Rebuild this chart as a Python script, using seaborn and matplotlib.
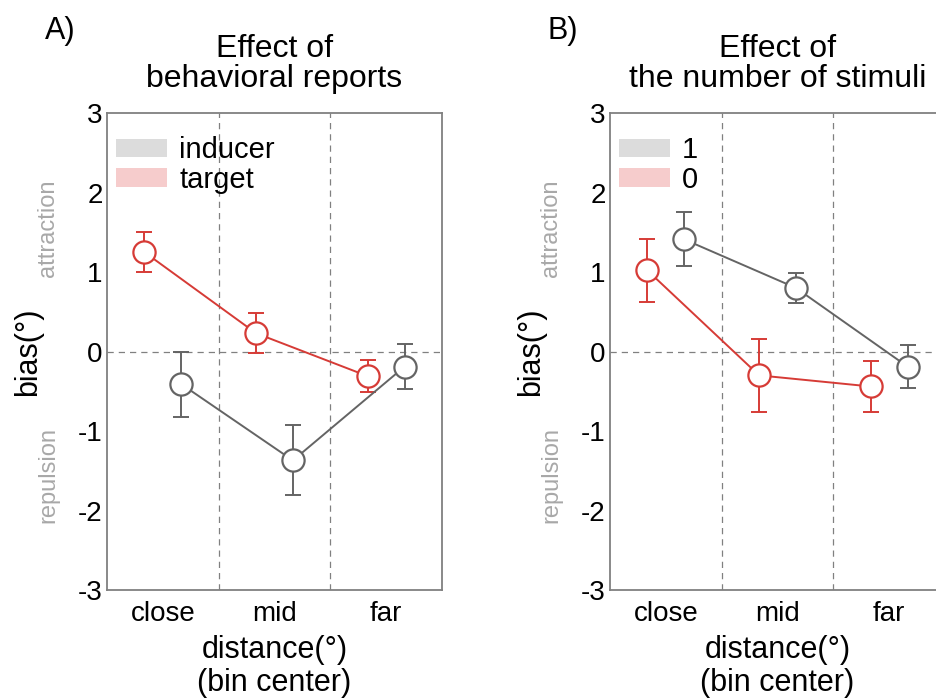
import pandas as pd
import matplotlib.pyplot as plt
from matplotlib.patches import Patch
import seaborn as sns

# -----------------------------------------------------------------------------
# Data
# -----------------------------------------------------------------------------
bins = ["close", "mid", "far"]
yticks = [-3, -2, -1, 0, 1, 2, 3]

# A) effect of behavioral reports
a_inducer = [-0.41, -1.37, -0.19]
a_inducer_err = [0.41, 0.44, 0.28]
a_target = [1.25, 0.23, -0.31]
a_target_err = [0.25, 0.25, 0.20]

# B) effect of the number of stimuli
b_one = [1.41, 0.80, -0.19]
b_one_err = [0.34, 0.19, 0.27]
b_zero = [1.02, -0.30, -0.44]
b_zero_err = [0.40, 0.46, 0.32]

# -----------------------------------------------------------------------------
# Style
# -----------------------------------------------------------------------------
sns.set_theme(style="white")
plt.rcParams['font.family'] = ['Liberation Sans', 'DejaVu Sans']
plt.rcParams['axes.unicode_minus'] = False
plt.rcParams['text.color'] = 'black'
plt.rcParams['axes.labelcolor'] = 'black'

red = "#d63b36"
grey = "#646464"
red_patch = "#f6cccc"
grey_patch = "#dcdcdc"
spine_col = "#808080"
dodge = 0.165


def panel(ax, gray_vals, gray_err, red_vals, red_err, labels, title, letter):
    for vals, err, col, off in [(gray_vals, gray_err, grey, dodge),
                                (red_vals, red_err, red, -dodge)]:
        df = pd.DataFrame({"bin": bins, "bias": vals, "err": err})
        df["x"] = [i + 0.5 + off for i in range(len(bins))]
        ax.errorbar(df["x"], df["bias"], yerr=df["err"], fmt="none",
                    ecolor=col, elinewidth=1.4, capsize=6, capthick=1.4, zorder=2)
        sns.lineplot(data=df, x="x", y="bias", ax=ax, color=col, lw=1.4,
                     marker="o", markersize=16, markerfacecolor="white",
                     markeredgecolor=col, markeredgewidth=1.6, zorder=3)

    ax.set_xlim(0, 3)
    ax.set_ylim(-3, 3)
    for xv in [1, 2]:
        ax.axvline(xv, color=spine_col, lw=0.9, ls=(0, (5, 4)), zorder=1)
    ax.axhline(0, color=spine_col, lw=0.9, ls=(0, (5, 4)), zorder=1)

    ax.set_xticks([i + 0.5 for i in range(len(bins))])
    ax.set_xticklabels(bins)
    ax.set_yticks(yticks)
    ax.tick_params(axis="both", length=0, labelsize=20, colors="black")
    ax.tick_params(axis="x", pad=8)
    ax.tick_params(axis="y", pad=3)
    for s in ax.spines.values():
        s.set_color(spine_col)
        s.set_linewidth(1.3)

    ax.set_xlabel("distance(°)\n(bin center)", fontsize=22, labelpad=6,
                  linespacing=1.12)
    ax.set_ylabel("bias(°)", fontsize=22)
    ax.yaxis.label.set(ha="center", va="center")
    ax.yaxis.set_label_coords(-0.235, 0.5)

    tr = ax.get_yaxis_transform()
    ax.text(-0.176, 1.55, "attraction", transform=tr, rotation=90,
            ha="center", va="center", fontsize=17, color="#a8a8a8")
    ax.text(-0.176, -1.55, "repulsion", transform=tr, rotation=90,
            ha="center", va="center", fontsize=17, color="#a8a8a8")

    ax.set_title(title, fontsize=23, pad=19, linespacing=1.0)
    ax.text(-0.14, 1.172, letter, transform=ax.transAxes, fontsize=22,
            ha="center", va="center")

    handles = [Patch(facecolor=grey_patch, edgecolor="none"),
               Patch(facecolor=red_patch, edgecolor="none")]
    ax.legend(handles, labels, loc="upper left", bbox_to_anchor=(0.0, 0.97),
              frameon=False, fontsize=21, handlelength=1.75, handleheight=0.6,
              handletextpad=0.42, labelspacing=0.05, borderaxespad=0.0,
              borderpad=0.3)


# -----------------------------------------------------------------------------
# Plot
# -----------------------------------------------------------------------------
fig = plt.figure(figsize=(9.36, 6.98), dpi=100)
ax1 = fig.add_axes([0.1143, 0.1547, 0.3579, 0.6834])
ax2 = fig.add_axes([0.6517, 0.1547, 0.3579, 0.6834])

panel(ax1, a_inducer, a_inducer_err, a_target, a_target_err,
      ["inducer", "target"], "Effect of\nbehavioral reports", "A)")
panel(ax2, b_one, b_one_err, b_zero, b_zero_err,
      ["1", "0"], "Effect of\nthe number of stimuli", "B)")

fig.savefig("out.png", dpi=100)
